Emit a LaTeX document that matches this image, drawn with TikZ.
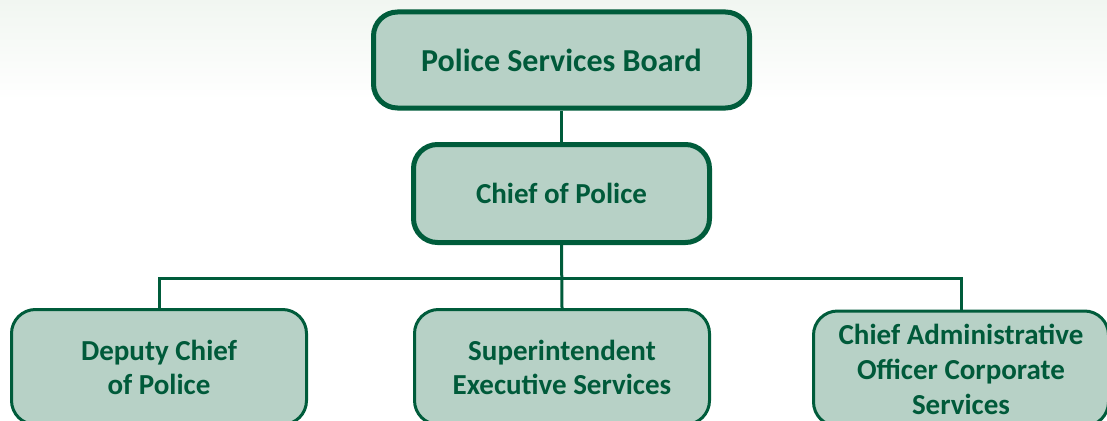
\documentclass[tikz,border=0pt]{standalone}
\usepackage{fontspec}
\setmainfont{Carlito}
\definecolor{boxfill}{HTML}{B7D1C6}
\definecolor{boxline}{HTML}{005C3B}
\definecolor{boxtext}{HTML}{005A3A}
\definecolor{haze}{HTML}{F1F6F1}
\begin{document}
\begin{tikzpicture}[x=1pt,y=-1pt,
  unit/.style={draw=boxline, fill=boxfill, text=boxtext, rounded corners=24pt,
    align=center, font=\bfseries, inner sep=0pt},
  upper/.style={unit, line width=5pt},
  lower/.style={unit, line width=3pt, minimum width=295pt, minimum height=115pt,
    font=\bfseries\fontsize{29}{34}\selectfont},
  link/.style={draw=boxline, line width=3pt}]
\useasboundingbox (0,0) rectangle (1107,420);
\clip (0,0) rectangle (1107,420);
% soft tint along the top edge
\shade[top color=haze, bottom color=white] (0,0) rectangle (1107,100);

\node[upper, minimum width=376pt, minimum height=96pt,
  font=\bfseries\fontsize{32}{38}\selectfont] (board) at (561.5,60) {Police Services Board};
\node[upper, minimum width=296pt, minimum height=98pt,
  font=\bfseries\fontsize{29}{34}\selectfont] (chief) at (561.5,193.5) {\raisebox{-1.5pt}{Chief of Police}};

\node[lower] (deputy) at (159,367) {Deputy Chief\\of Police};
\node[lower] (super) at (562,367) {Superintendent\\Executive Services};
\node[lower, anchor=north, font=\bfseries\fontsize{29}{35}\selectfont] (admin) at (961,309.5)
  {\rule{0pt}{22pt}Chief Administrative\\Officer Corporate\\Services};

\coordinate (bar) at (562,278);
\draw[link] (board.south) -- (chief.north);
\draw[link] (chief.south) -- (super.north);
\draw[link] (deputy.north) |- (bar) -| (admin.north);
\end{tikzpicture}
\end{document}
